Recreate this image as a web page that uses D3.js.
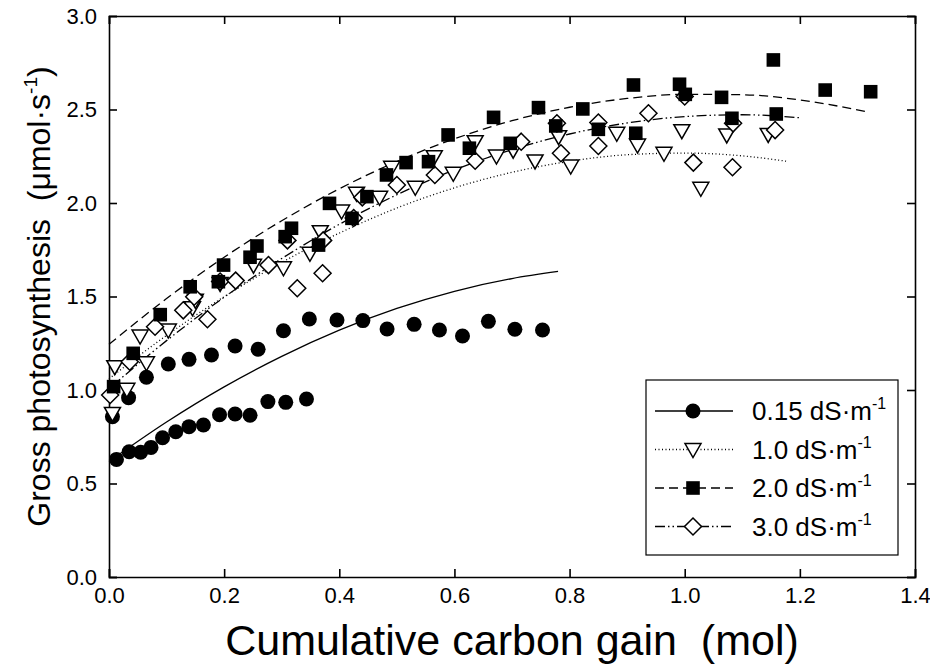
<!DOCTYPE html>
<html>
<head>
<meta charset="utf-8">
<script src="https://cdn.jsdelivr.net/npm/d3@7"></script>
<style>
  html, body { margin: 0; padding: 0; background: #fff; }
  svg { display: block; font-family: "Liberation Sans", Arial, sans-serif; }
  .title { white-space: pre; }
</style>
</head>
<body>
<svg id="chart" width="930" height="665"></svg>
<script>
// ---- data ----
const xTicks = [0.0, 0.2, 0.4, 0.6, 0.8, 1.0, 1.2, 1.4];
const yTicks = [0.0, 0.5, 1.0, 1.5, 2.0, 2.5, 3.0];

const seriesNames = ["0.15", "1.0", "2.0", "3.0"];

// 0.15 dS·m-1 (filled circles)
const s015X = [0.013,0.035,0.055,0.073,0.093,0.116,0.139,0.164,0.192,0.219,0.245,0.276,0.307,0.343,
               0.006,0.034,0.065,0.103,0.139,0.178,0.219,0.259,0.303,0.348,0.396,0.441,0.483,0.530,0.574,0.614,0.659,0.705,0.753];
const s015Y = [0.629,0.670,0.667,0.693,0.745,0.777,0.804,0.813,0.868,0.872,0.865,0.938,0.934,0.952,
               0.857,0.959,1.068,1.139,1.164,1.187,1.235,1.218,1.317,1.380,1.374,1.371,1.326,1.351,1.321,1.289,1.367,1.325,1.321];

// 1.0 dS·m-1 (open triangles)
const s10X = [0.006,0.010,0.031,0.054,0.065,0.103,0.145,0.150,0.193,0.251,0.303,0.349,0.367,0.404,0.430,0.470,0.491,
              0.532,0.565,0.598,0.636,0.673,0.702,0.740,0.781,0.802,0.882,0.918,0.964,0.995,1.028,1.073,1.145];
const s10Y = [0.875,1.125,1.004,1.289,1.146,1.321,1.440,1.480,1.570,1.668,1.654,1.731,1.847,1.957,2.052,2.031,2.191,
              2.084,2.248,2.159,2.328,2.251,2.283,2.225,2.355,2.198,2.373,2.310,2.266,2.387,2.079,2.364,2.367];

// 2.0 dS·m-1 (filled squares)
const s20X = [0.008,0.042,0.089,0.141,0.190,0.199,0.245,0.257,0.306,0.317,0.364,0.383,0.422,0.448,0.482,0.516,0.555,
              0.589,0.626,0.668,0.697,0.746,0.776,0.823,0.850,0.911,0.915,0.991,1.001,1.064,1.082,1.154,1.159,1.244,1.323];
const s20Y = [1.018,1.196,1.403,1.552,1.579,1.668,1.710,1.770,1.820,1.865,1.775,1.998,1.918,2.034,2.150,2.216,2.221,
              2.364,2.293,2.458,2.319,2.510,2.412,2.503,2.394,2.631,2.373,2.635,2.581,2.565,2.453,2.765,2.476,2.604,2.595];

// 3.0 dS·m-1 (open diamonds)
const s30X = [0.002,0.036,0.080,0.129,0.148,0.171,0.193,0.220,0.277,0.310,0.327,0.371,0.372,0.425,0.440,0.500,0.566,
              0.636,0.716,0.778,0.785,0.850,0.850,0.937,1.000,1.015,1.083,1.084,1.157];
const s30Y = [0.973,1.151,1.338,1.426,1.499,1.378,1.580,1.585,1.668,1.800,1.544,1.624,1.800,1.920,2.030,2.096,2.150,
              2.226,2.328,2.426,2.266,2.430,2.305,2.480,2.570,2.216,2.191,2.426,2.390];

// fitted curves
const fit015X = [0,0.1,0.2,0.3,0.4,0.5,0.6,0.7,0.78];
const fit015Y = [0.618,0.829,1.017,1.180,1.320,1.436,1.528,1.596,1.634];
const fit10X  = [0,0.1,0.2,0.3,0.4,0.5,0.6,0.7,0.8,0.9,1.0,1.1,1.18];
const fit10Y  = [1.060,1.292,1.499,1.682,1.839,1.973,2.081,2.164,2.223,2.258,2.267,2.252,2.222];
const fit20X  = [0,0.1,0.2,0.3,0.4,0.5,0.6,0.7,0.8,0.9,1.0,1.1,1.2,1.32];
const fit20Y  = [1.244,1.489,1.710,1.905,2.076,2.222,2.343,2.440,2.512,2.559,2.581,2.579,2.551,2.486];
const fit30X  = [0,0.1,0.2,0.3,0.4,0.5,0.6,0.7,0.8,0.9,1.0,1.1,1.2];
const fit30Y  = [1.007,1.264,1.496,1.703,1.886,2.044,2.177,2.285,2.369,2.428,2.462,2.472,2.456];

// ---- layout ----
const svg = d3.select("#chart");
const M = {left: 109, right: 915, top: 16, bottom: 577};
const x = d3.scaleLinear().domain([0, 1.4]).range([M.left, M.right]);
const y = d3.scaleLinear().domain([0, 3.0]).range([M.bottom, M.top]);

const zip = (xs, ys) => xs.map((v, i) => [v, ys[i]]);

const series = [
  {name: seriesNames[0], pts: zip(s015X, s015Y), fit: zip(fit015X, fit015Y), shape: "circle", dash: null},
  {name: seriesNames[1], pts: zip(s10X, s10Y), fit: zip(fit10X, fit10Y), shape: "triangle", dash: "1,2.5"},
  {name: seriesNames[2], pts: zip(s20X, s20Y), fit: zip(fit20X, fit20Y), shape: "square", dash: "9,5"},
  {name: seriesNames[3], pts: zip(s30X, s30Y), fit: zip(fit30X, fit30Y), shape: "diamond", dash: "10,3,1.5,3,1.5,3"}
];

// axes (ticks pointing inward, on all four sides)
const tickLen = 8;
const axB = d3.axisBottom(x).tickValues(xTicks).tickSize(-tickLen).tickPadding(10).tickFormat(d3.format(".1f"));
const axT = d3.axisTop(x).tickValues(xTicks).tickSize(-tickLen).tickFormat("");
const axL = d3.axisLeft(y).tickValues(yTicks).tickSize(-tickLen).tickPadding(12).tickFormat(d3.format(".1f"));
const axR = d3.axisRight(y).tickValues(yTicks).tickSize(-tickLen).tickFormat("");

function styleAxis(g) {
  g.select(".domain").attr("stroke", "#000").attr("stroke-width", 1.6);
  g.selectAll(".tick line").attr("stroke", "#000").attr("stroke-width", 1.6);
  g.selectAll(".tick text").attr("fill", "#000").style("font-size", "22px")
   .style("font-family", '"Liberation Sans", Arial, sans-serif');
}
svg.append("g").attr("transform", `translate(0,${M.bottom})`).call(axB).call(styleAxis);
svg.append("g").attr("transform", `translate(0,${M.top})`).call(axT).call(styleAxis);
svg.append("g").attr("transform", `translate(${M.left},0)`).call(axL).call(styleAxis);
svg.append("g").attr("transform", `translate(${M.right},0)`).call(axR).call(styleAxis);

// fitted lines
const line = d3.line().x(d => x(d[0])).y(d => y(d[1])).curve(d3.curveMonotoneX);
series.forEach(s => {
  svg.append("path").datum(s.fit).attr("d", line)
    .attr("fill", "none").attr("stroke", "#000").attr("stroke-width", 1.3)
    .attr("stroke-dasharray", s.dash);
});

// markers
function drawMarker(g, shape, cx, cy) {
  if (shape === "circle") {
    g.append("circle").attr("cx", cx).attr("cy", cy).attr("r", 7.5).attr("fill", "#000");
  } else if (shape === "square") {
    g.append("rect").attr("x", cx - 6.8).attr("y", cy - 6.8).attr("width", 13.6).attr("height", 13.6).attr("fill", "#000");
  } else if (shape === "triangle") {
    const w = 8, h = 7;
    g.append("path").attr("d", `M${cx - w},${cy - h * 0.85}L${cx + w},${cy - h * 0.85}L${cx},${cy + h * 1.15}Z`)
      .attr("fill", "#fff").attr("stroke", "#000").attr("stroke-width", 1.5);
  } else if (shape === "diamond") {
    const r = 8.5;
    g.append("path").attr("d", `M${cx},${cy - r}L${cx + r},${cy}L${cx},${cy + r}L${cx - r},${cy}Z`)
      .attr("fill", "#fff").attr("stroke", "#000").attr("stroke-width", 1.5);
  }
}
const markG = svg.append("g");
[series[0], series[1], series[3], series[2]].forEach(s => {
  s.pts.forEach(p => drawMarker(markG, s.shape, x(p[0]), y(p[1])));
});

// legend
const lg = svg.append("g");
lg.append("rect").attr("x", 646).attr("y", 380).attr("width", 252).attr("height", 175)
  .attr("fill", "#fff").attr("stroke", "#000").attr("stroke-width", 1.2);
series.forEach((s, i) => {
  const cy = 411 + i * 38.5;
  lg.append("line").attr("x1", 655).attr("x2", 733).attr("y1", cy).attr("y2", cy)
    .attr("stroke", "#000").attr("stroke-width", 1.3).attr("stroke-dasharray", s.dash);
  drawMarker(lg, s.shape, 693, cy);
  const t = lg.append("text").attr("x", 752).attr("y", cy + 9).attr("fill", "#000").style("font-size", "26px");
  t.append("tspan").text(s.name + " dS\u00B7m");
  t.append("tspan").attr("dy", -11).style("font-size", "16px").text("-1");
});

// axis titles
svg.append("text").attr("class", "title").attr("x", (M.left + M.right) / 2).attr("y", 655).attr("text-anchor", "middle")
  .attr("fill", "#000").style("font-size", "43px").text("Cumulative carbon gain  (mol)");

const yt = svg.append("text").attr("class", "title").attr("transform", `translate(50,${(M.top + M.bottom) / 2}) rotate(-90)`)
  .attr("text-anchor", "middle").attr("fill", "#000").style("font-size", "32px");
yt.append("tspan").text("Gross photosynthesis  (\u03BCmol\u00B7s");
yt.append("tspan").attr("dy", -13).style("font-size", "19px").text("-1");
yt.append("tspan").attr("dy", 13).text(")");
</script>
</body>
</html>
